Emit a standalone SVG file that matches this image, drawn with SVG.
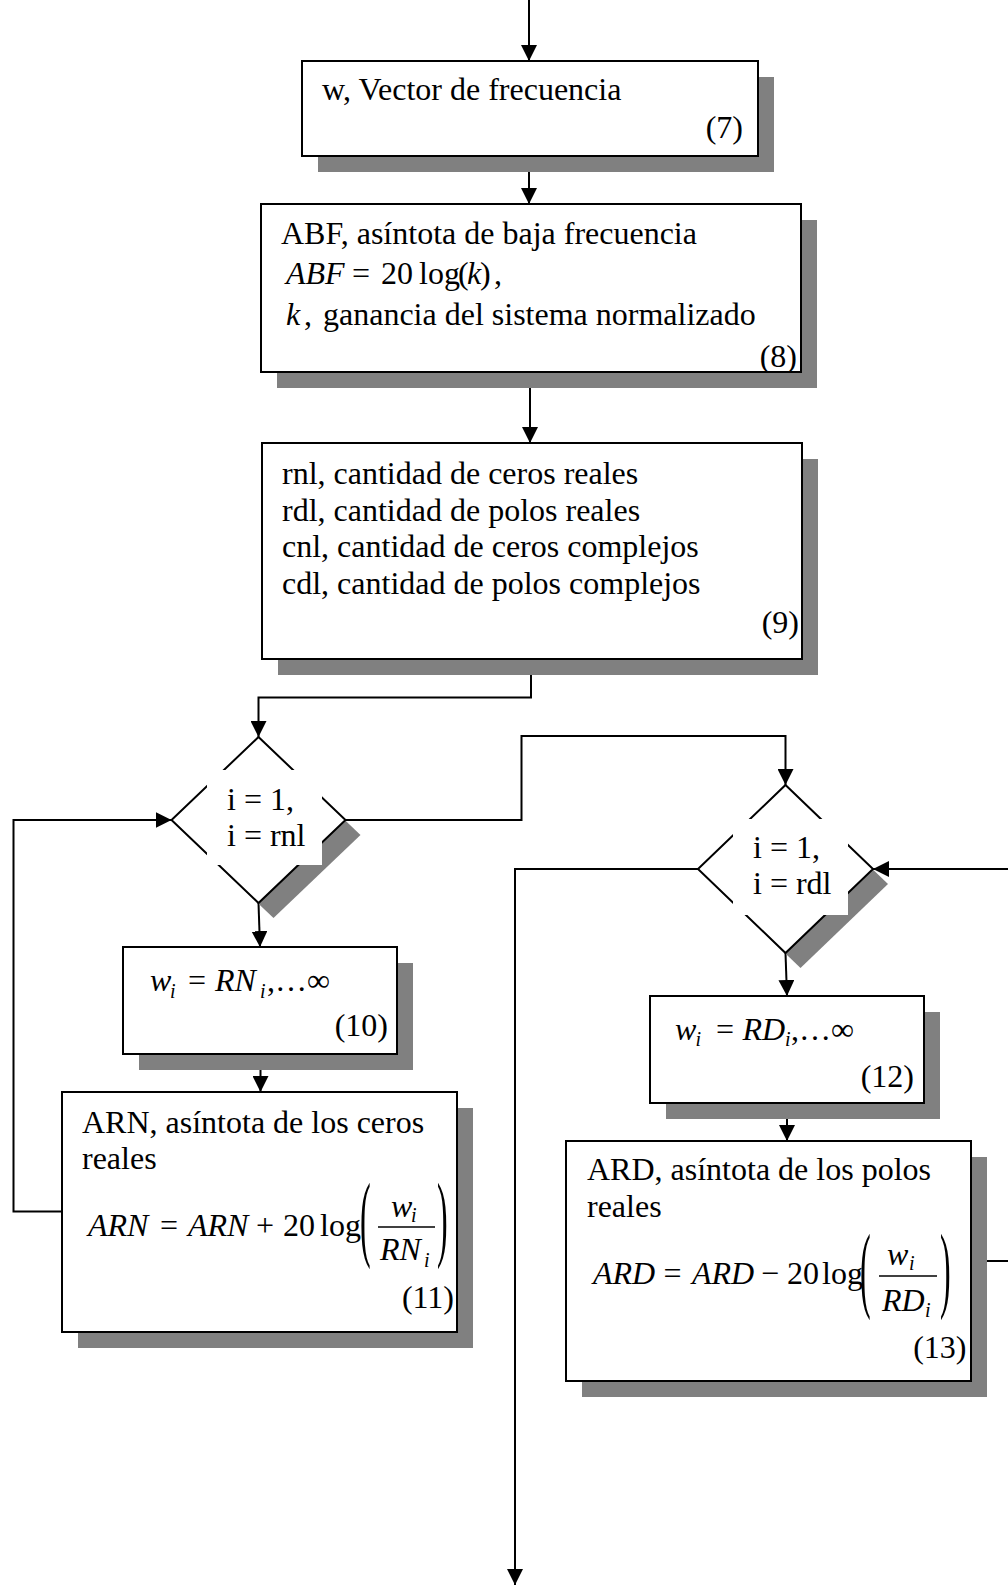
<svg xmlns="http://www.w3.org/2000/svg" width="1008" height="1585" viewBox="0 0 1008 1585">
<defs>
<style>
.t{font-family:'Liberation Serif','Times New Roman',serif;font-size:32px;fill:#000}
.it{font-style:italic}
.sub{font-size:20px;font-style:italic}
.box{fill:#fff;stroke:#000;stroke-width:2}
.sh{fill:#808080}
.ln{fill:none;stroke:#000;stroke-width:2}
.bar{stroke:#000;stroke-width:1.5}
</style>
<marker id="arr" viewBox="0 0 16 16" refX="16" refY="8" markerWidth="16" markerHeight="16" orient="auto" markerUnits="userSpaceOnUse">
<path d="M0,0 L16,8 L0,16 z" fill="#000"/>
</marker>
<clipPath id="c8"><rect x="262" y="205" width="538" height="166"/></clipPath>
</defs>
<rect width="1008" height="1585" fill="#fff"/>

<g id="connectors">
<path class="ln" d="M529,0 V61" marker-end="url(#arr)"/>
<path class="ln" d="M529,156 V204" marker-end="url(#arr)"/>
<path class="ln" d="M530,372 V443" marker-end="url(#arr)"/>
<path class="ln" d="M531,659 V697.5 H258.5 V737" marker-end="url(#arr)"/>
<path class="ln" d="M345.5,820 H521.5 V736 H785.5 V785" marker-end="url(#arr)"/>
<path class="ln" d="M258.5,903 L260,947" marker-end="url(#arr)"/>
<path class="ln" d="M260.5,1054 V1092" marker-end="url(#arr)"/>
<path class="ln" d="M62,1211.5 H13.5 V820 H171.5" marker-end="url(#arr)"/>
<path class="ln" d="M785.5,953 L787,996" marker-end="url(#arr)"/>
<path class="ln" d="M787,1103 V1141" marker-end="url(#arr)"/>
<path class="ln" d="M698,869 H515 V1585" marker-end="url(#arr)"/>
<path class="ln" d="M1012,869 H873" marker-end="url(#arr)"/>
<path class="ln" d="M971,1261 H1012"/>
</g>

<g id="n7">
<rect class="sh" x="318" y="77" width="456" height="95"/>
<rect class="box" x="302" y="61" width="456" height="95"/>
<text class="t" x="322" y="100">w, Vector de frecuencia</text>
<text class="t" x="743" y="138" text-anchor="end">(7)</text>
</g>

<g id="n8">
<rect class="sh" x="277" y="220" width="540" height="168"/>
<rect class="box" x="261" y="204" width="540" height="168"/>
<text class="t" x="281" y="244">ABF, asíntota de baja frecuencia</text>
<text class="t" y="284"><tspan class="it" x="286">ABF</tspan><tspan x="352">=</tspan><tspan x="381">20</tspan><tspan x="419">log</tspan><tspan x="458">(</tspan><tspan class="it" x="467">k</tspan><tspan x="480">)</tspan><tspan x="494">,</tspan></text>
<text class="t" y="325"><tspan class="it" x="286">k</tspan><tspan x="304">,</tspan><tspan x="323">ganancia del sistema normalizado</tspan></text>
<text class="t" x="797" y="367" text-anchor="end" clip-path="url(#c8)">(8)</text>
</g>

<g id="n9">
<rect class="sh" x="278" y="459" width="540" height="216"/>
<rect class="box" x="262" y="443" width="540" height="216"/>
<text class="t" x="282" y="484">rnl, cantidad de ceros reales</text>
<text class="t" x="282" y="521">rdl, cantidad de polos reales</text>
<text class="t" x="282" y="557">cnl, cantidad de ceros complejos</text>
<text class="t" x="282" y="594">cdl, cantidad de polos complejos</text>
<text class="t" x="799" y="633" text-anchor="end">(9)</text>
</g>

<g id="d1">
<polygon class="sh" points="273.5,752 360.5,835 273.5,918 186.5,835"/>
<polygon class="box" points="258.5,737 345.5,820 258.5,903 171.5,820"/>
<rect x="207" y="770" width="115" height="95" fill="#fff"/>
<text class="t" x="227" y="810">i = 1,</text>
<text class="t" x="227" y="846">i = rnl</text>
</g>

<g id="d2">
<polygon class="sh" points="800.5,800 888,884 800.5,968 713,884"/>
<polygon class="box" points="785.5,785 873,869 785.5,953 698,869"/>
<rect x="733" y="819" width="115" height="96" fill="#fff"/>
<text class="t" x="753" y="858">i = 1,</text>
<text class="t" x="753" y="894">i = rdl</text>
</g>

<g id="n10">
<rect class="sh" x="139" y="963" width="274" height="107"/>
<rect class="box" x="123" y="947" width="274" height="107"/>
<text class="t" y="991"><tspan class="it" x="150">w</tspan><tspan class="sub" x="170" y="998">i</tspan><tspan x="188" y="991">=</tspan><tspan class="it" x="215">RN</tspan><tspan class="sub" x="260" y="998">i</tspan><tspan x="267" y="991">,…∞</tspan></text>
<text class="t" x="388" y="1036" text-anchor="end">(10)</text>
</g>

<g id="n11">
<rect class="sh" x="78" y="1108" width="395" height="240"/>
<rect class="box" x="62" y="1092" width="395" height="240"/>
<text class="t" x="82" y="1133">ARN, asíntota de los ceros</text>
<text class="t" x="82" y="1169">reales</text>
<text class="t" y="1236"><tspan class="it" x="88">ARN</tspan><tspan x="160">=</tspan><tspan class="it" x="188">ARN</tspan><tspan x="256">+</tspan><tspan x="283">20</tspan><tspan x="320">log</tspan></text>
<text class="t" transform="translate(360,1249) scale(1,3)">(</text>
<text class="t" transform="translate(437,1249) scale(1,3)">)</text>
<text class="t"><tspan class="it" x="391" y="1217">w</tspan><tspan class="sub" x="411" y="1222">i</tspan></text>
<line class="bar" x1="378" y1="1227" x2="435" y2="1227"/>
<text class="t"><tspan class="it" x="380" y="1260">RN</tspan><tspan class="sub" x="424" y="1267">i</tspan></text>
<text class="t" x="454" y="1308" text-anchor="end">(11)</text>
</g>

<g id="n12">
<rect class="sh" x="666" y="1012" width="274" height="107"/>
<rect class="box" x="650" y="996" width="274" height="107"/>
<text class="t" y="1040"><tspan class="it" x="675">w</tspan><tspan class="sub" x="695.5" y="1046">i</tspan><tspan x="716" y="1040">=</tspan><tspan class="it" x="742.5">RD</tspan><tspan class="sub" x="785" y="1046">i</tspan><tspan x="791" y="1040">,…∞</tspan></text>
<text class="t" x="914" y="1087" text-anchor="end">(12)</text>
</g>

<g id="n13">
<rect class="sh" x="582" y="1157" width="405" height="240"/>
<rect class="box" x="566" y="1141" width="405" height="240"/>
<text class="t" x="587" y="1180">ARD, asíntota de los polos</text>
<text class="t" x="587" y="1217">reales</text>
<text class="t" y="1284"><tspan class="it" x="593">ARD</tspan><tspan x="663.5">=</tspan><tspan class="it" x="692">ARD</tspan><tspan x="761">−</tspan><tspan x="787">20</tspan><tspan x="822">log</tspan></text>
<text class="t" transform="translate(860,1300) scale(1,3)">(</text>
<text class="t" transform="translate(940,1300) scale(1,3)">)</text>
<text class="t"><tspan class="it" x="887" y="1265">w</tspan><tspan class="sub" x="909" y="1270">i</tspan></text>
<line class="bar" x1="879" y1="1276" x2="937" y2="1276"/>
<text class="t"><tspan class="it" x="882" y="1311">RD</tspan><tspan class="sub" x="925" y="1317">i</tspan></text>
<text class="t" x="966.5" y="1358" text-anchor="end">(13)</text>
</g>
</svg>
